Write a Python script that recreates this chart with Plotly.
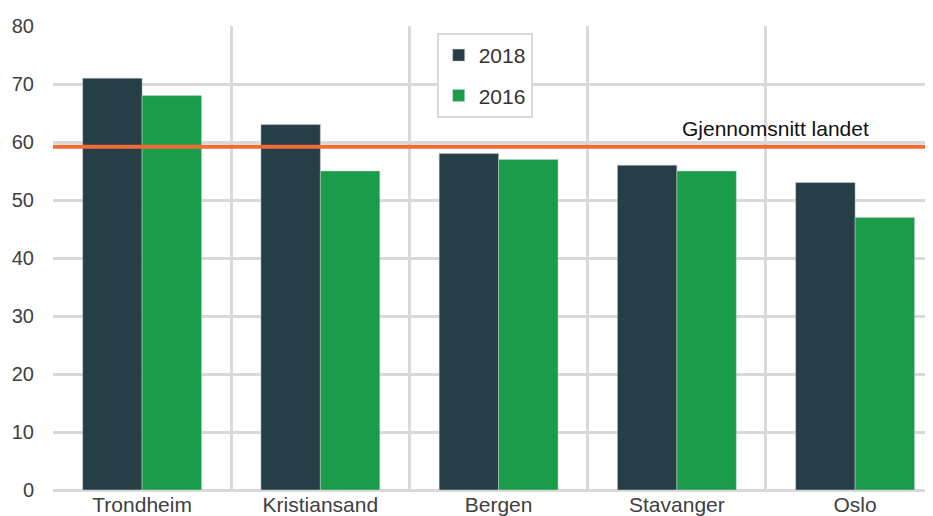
import plotly.graph_objects as go

cities = ['Trondheim', 'Kristiansand', 'Bergen', 'Stavanger', 'Oslo']
values_2018 = [71, 63, 58, 56, 53]
values_2016 = [68, 55, 57, 55, 47]
national_avg = 59.2
avg_label = 'Gjennomsnitt landet'

positions = list(range(len(cities)))
boundaries = [p - 0.5 for p in positions] + [len(cities) - 0.5]

FONT = 'Liberation Sans, Arial, sans-serif'
GRID = '#D9D9D9'

fig = go.Figure()
fig.add_trace(go.Bar(
    x=positions, y=values_2018, name='2018', legendgroup='a',
    marker=dict(color='#263F46', line=dict(color='rgba(200,210,210,0.6)', width=0.8))
))
fig.add_trace(go.Bar(
    x=positions, y=values_2016, name='2016', legendgroup='b',
    marker=dict(color='#1B9C4A', line=dict(color='rgba(200,210,210,0.6)', width=0.8))
))

# national average line
fig.add_shape(type='line', xref='paper', x0=0, x1=1, yref='y',
              y0=national_avg, y1=national_avg,
              line=dict(color='#F26A36', width=4))
fig.add_annotation(x=3.556, y=national_avg + 3.2, text=avg_label,
                   showarrow=False, yanchor='middle',
                   font=dict(family=FONT, size=21, color='#111111'))

# the page adds an 8px body margin, so the figure is sized to fit the window
fig.update_layout(
    width=925, height=508,
    margin=dict(l=45, r=0, t=18, b=26),
    plot_bgcolor='white', paper_bgcolor='white',
    barmode='group', bargap=0.333, bargroupgap=0,
    font=dict(family=FONT, size=21, color='#404040'),
    showlegend=True,
    legend=dict(
        x=0.436, y=0.985, xanchor='left', yanchor='top',
        bgcolor='white', bordercolor=GRID, borderwidth=2,
        font=dict(family=FONT, size=21, color='#333333'),
        tracegroupgap=10, itemwidth=30,
    ),
    xaxis=dict(
        range=[-0.5, 4.437], tickvals=positions, ticktext=cities,
        showgrid=False, zeroline=False, showline=False, ticks='',
        tickfont=dict(size=21, color='#404040'),
        minor=dict(tickvals=boundaries, showgrid=True, gridcolor=GRID, gridwidth=2.5, ticks=''),
    ),
    yaxis=dict(
        range=[0, 80], dtick=10, showgrid=True, gridcolor=GRID, gridwidth=2.5,
        zeroline=True, zerolinecolor=GRID, zerolinewidth=2.5,
        ticks='', ticklabelstandoff=18,
        tickfont=dict(size=20, color='#404040'),
    ),
)

fig.write_html('out.html')
